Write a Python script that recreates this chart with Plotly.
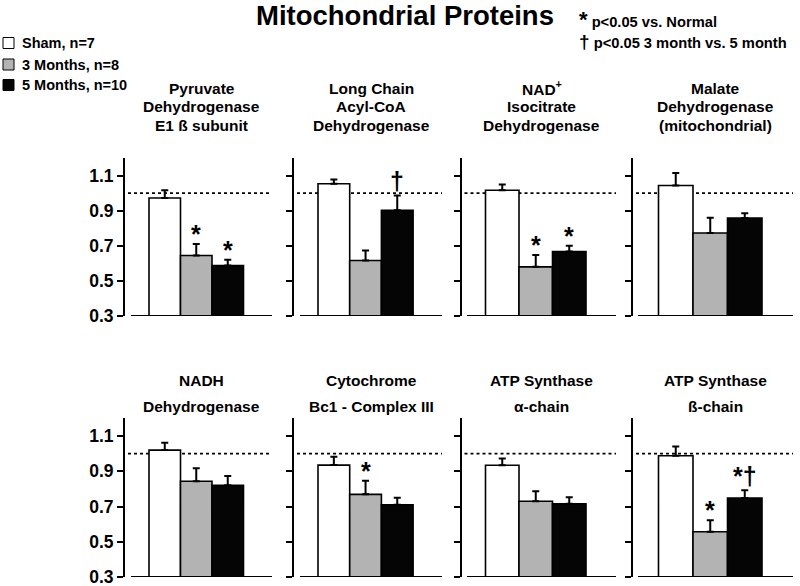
import plotly.graph_objects as go

# ---------------- data ----------------
groups = ["Sham, n=7", "3 Months, n=8", "5 Months, n=10"]
bar_colors = ["#ffffff", "#b3b3b3", "#050505"]

panel_titles = [
    ["Pyruvate", "Dehydrogenase", "E1 ß subunit"],
    ["Long Chain", "Acyl-CoA", "Dehydrogenase"],
    ["NAD<sup>+</sup>", "Isocitrate", "Dehydrogenase"],
    ["Malate", "Dehydrogenase", "(mitochondrial)"],
    ["NADH", "Dehydrogenase"],
    ["Cytochrome", "Bc1 - Complex III"],
    ["ATP Synthase", "α-chain"],
    ["ATP Synthase", "ß-chain"],
]

pdh_mean = [0.972, 0.645, 0.587]
pdh_sem = [0.044, 0.065, 0.033]
lcad_mean = [1.053, 0.616, 0.902]
lcad_sem = [0.024, 0.057, 0.085]
idh_mean = [1.016, 0.580, 0.667]
idh_sem = [0.033, 0.067, 0.033]
mdh_mean = [1.043, 0.773, 0.858]
mdh_sem = [0.072, 0.087, 0.027]
nadh_mean = [1.020, 0.843, 0.820]
nadh_sem = [0.042, 0.074, 0.053]
cyt_mean = [0.935, 0.769, 0.710]
cyt_sem = [0.048, 0.077, 0.040]
atpa_mean = [0.934, 0.730, 0.716]
atpa_sem = [0.039, 0.056, 0.036]
atpb_mean = [0.988, 0.557, 0.748]
atpb_sem = [0.053, 0.065, 0.044]

significance = [
    ["", "*", "*"],
    ["", "", "†"],
    ["", "*", "*"],
    ["", "", ""],
    ["", "", ""],
    ["", "*", ""],
    ["", "", ""],
    ["", "*", "*†"],
]

means = [pdh_mean, lcad_mean, idh_mean, mdh_mean, nadh_mean, cyt_mean, atpa_mean, atpb_mean]
sems = [pdh_sem, lcad_sem, idh_sem, mdh_sem, nadh_sem, cyt_sem, atpa_sem, atpb_sem]

y_ticks = [0.3, 0.5, 0.7, 0.9, 1.1]
y_range = [0.3, 1.2]
reference_level = 1.0

key_lines = [("*", "p<0.05 vs. Normal"), ("†", "p<0.05 3 month vs. 5 month")]

# ---------------- layout geometry (pixels) ----------------
W, H = 800, 586
yaxis_px = [125, 294, 461.5, 633]
xline_start_px = [131, 300, 467, 638]
xline_end_px = [272, 442, 616, 793]
bar_start_px = [149, 318, 485.5, 658.5]
bar_w_px = [31.5, 31.7, 33.5, 34.5]
row_top_px = [158, 418.4]
row_bot_px = [316, 577]

FONT = "Liberation Sans, Arial, sans-serif"

fig = go.Figure()
layout = dict()
shapes = []
annotations = []

for p in range(8):
    row, col = divmod(p, 4)
    idx = p + 1
    xa = "x" if idx == 1 else f"x{idx}"
    ya = "y" if idx == 1 else f"y{idx}"
    w = bar_w_px[col]
    c0 = bar_start_px[col] + w / 2
    xr = [-(c0 - yaxis_px[col]) / w, (xline_end_px[col] - c0) / w]
    for g in range(3):
        fig.add_trace(go.Bar(
            x=[g], y=[means[p][g]], width=1,
            base=0,
            marker=dict(color=bar_colors[g], line=dict(color="black", width=1.6)),
            error_y=dict(type="data", symmetric=False, array=[sems[p][g]], arrayminus=[0],
                         color="black", thickness=2, width=3.5),
            name=groups[g], showlegend=False,
            xaxis=xa, yaxis=ya, hoverinfo="skip",
        ))
        s = significance[p][g]
        if s:
            annotations.append(dict(
                x=g, y=means[p][g] + sems[p][g], xref=xa, yref=ya,
                text=f"<b>{s}</b>", showarrow=False, yanchor="bottom",
                yshift=-6 if s == "*" else -2,
                font=dict(family=FONT, size=25, color="black"),
            ))
    key = "xaxis" if idx == 1 else f"xaxis{idx}"
    ykey = "yaxis" if idx == 1 else f"yaxis{idx}"
    layout[key] = dict(domain=[yaxis_px[col] / W, xline_end_px[col] / W], range=xr,
                       visible=False, anchor=ya, fixedrange=True, automargin=False)
    layout[ykey] = dict(domain=[(H - row_bot_px[row]) / H, (H - row_top_px[row]) / H],
                        range=y_range, tickvals=y_ticks, ticktext=[f"{t:.1f}" for t in y_ticks],
                        showticklabels=(col == 0), ticks="outside", ticklen=6, tickwidth=2,
                        tickcolor="black", showline=True, linewidth=2, linecolor="black",
                        showgrid=False, zeroline=False, anchor=xa, automargin=False,
                        fixedrange=True, ticklabeloverflow="allow",
                        tickfont=dict(family=FONT, size=17.5, color="black", weight="bold"))
    # baseline
    shapes.append(dict(type="line", xref=xa, yref=ya,
                       x0=(xline_start_px[col] - c0) / w, x1=xr[1], y0=y_range[0], y1=y_range[0],
                       line=dict(color="black", width=2)))
    # reference dotted line
    shapes.append(dict(type="line", xref=xa, yref=ya,
                       x0=(yaxis_px[col] + 3 - c0) / w, x1=xr[1], y0=reference_level, y1=reference_level,
                       line=dict(color="black", width=1.6, dash="dot"), layer="below"))
    # titles
    lines = panel_titles[p]
    cx = ((xline_start_px[col] + xline_end_px[col]) / 2) / W
    if row == 0:
        y0, dy, fs = 88, 19, 15.5
    else:
        y0, dy, fs = 380, 26, 15.5
    for li, t in enumerate(lines):
        annotations.append(dict(x=cx, y=1 - (y0 + li * dy) / H, xref="paper", yref="paper",
                                text=f"<b>{t}</b>", showarrow=False, xanchor="center",
                                yanchor="middle",
                                font=dict(family=FONT, size=fs, color="black")))

# main title
annotations.append(dict(x=405 / W, y=1 - 15 / H, xref="paper", yref="paper",
                        text="<b>Mitochondrial Proteins</b>", showarrow=False,
                        xanchor="center", yanchor="middle",
                        font=dict(family=FONT, size=27.5, color="black")))
# significance key
key_y = [20, 42]
key_sym_size = [22, 19]
for i, (sym, txt) in enumerate(key_lines):
    annotations.append(dict(
        x=577 / W, y=1 - key_y[i] / H, xref="paper", yref="paper",
        text=f"<b><span style='font-size:{key_sym_size[i]}px'>{sym}</span> {txt}</b>",
        showarrow=False, xanchor="left", yanchor="middle",
        font=dict(family=FONT, size=14.7, color="black")))

# group legend (swatches + labels)
legend_y = [43, 64.5, 85]
for g in range(3):
    yc = legend_y[g]
    shapes.append(dict(type="rect", xref="paper", yref="paper",
                       x0=3 / W, x1=14 / W, y0=1 - (yc + 5.5) / H, y1=1 - (yc - 5.5) / H,
                       fillcolor=bar_colors[g], line=dict(color="black", width=1)))
    annotations.append(dict(x=20 / W, y=1 - yc / H, xref="paper", yref="paper",
                            text=f"<b>{groups[g]}</b>", showarrow=False, xanchor="left",
                            yanchor="middle",
                            font=dict(family=FONT, size=14.5, color="black")))

fig.update_layout(
    **layout,
    width=W, height=H,
    margin=dict(l=0, r=0, t=0, b=0),
    paper_bgcolor="white", plot_bgcolor="white",
    barmode="overlay",
    shapes=shapes, annotations=annotations,
    showlegend=False,
)

fig.write_html("out.html", config={"displayModeBar": False},
               post_script="document.body.style.margin='0px';")
